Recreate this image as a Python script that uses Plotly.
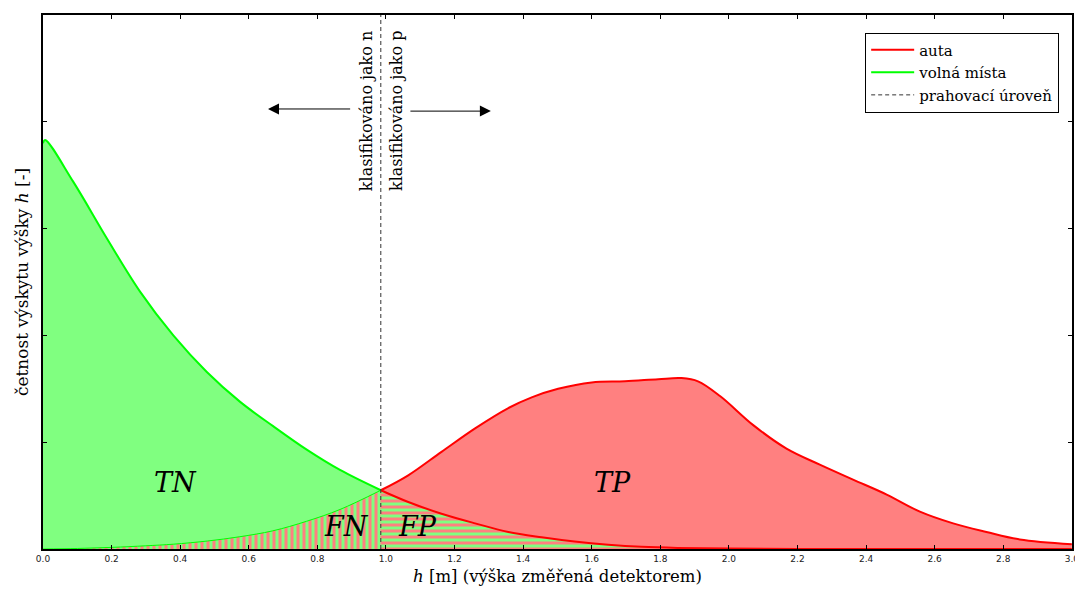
import plotly.graph_objects as go

# ---- data ----
threshold = 0.985

green_h = [0.0, 0.006, 0.088, 0.186, 0.283, 0.38, 0.477, 0.574, 0.671, 0.769, 0.866, 0.985,
           1.065, 1.162, 1.26, 1.357, 1.454, 1.55, 1.648, 1.745, 1.85, 2.0, 2.2, 2.5, 3.0]
green_v = [3.80, 3.83, 3.44, 2.91, 2.41, 2.00, 1.66, 1.38, 1.15, 0.93, 0.74, 0.55,
           0.44, 0.33, 0.24, 0.16, 0.11, 0.07, 0.04, 0.02, 0.01, 0.005, 0.0, 0.0, 0.0]

red_h = [0.0, 0.1, 0.2, 0.3, 0.38, 0.48, 0.574, 0.67, 0.769, 0.866, 0.985,
         1.065, 1.162, 1.26, 1.357, 1.425, 1.502, 1.60, 1.697, 1.794, 1.862, 1.91,
         1.975, 2.071, 2.168, 2.265, 2.362, 2.46, 2.557, 2.654, 2.751, 2.848, 3.0]
red_v = [0.0, 0.005, 0.015, 0.03, 0.045, 0.075, 0.115, 0.17, 0.26, 0.37, 0.55,
         0.69, 0.91, 1.13, 1.32, 1.42, 1.50, 1.56, 1.57, 1.59, 1.60, 1.57,
         1.43, 1.16, 0.94, 0.79, 0.65, 0.51, 0.35, 0.24, 0.16, 0.09, 0.045]

series_names = ["auta", "volná místa", "prahovací úroveň"]
region_labels = ["TN", "FN", "FP", "TP"]
x_ticks = [0.0, 0.2, 0.4, 0.6, 0.8, 1.0, 1.2, 1.4, 1.6, 1.8, 2.0, 2.2, 2.4, 2.6, 2.8, 3.0]

GREEN_FILL = "#80ff80"
RED_FILL = "#ff8080"
SERIF = "DejaVu Serif"


def split(xs, ys, left):
    if left:
        pts = [(x, y) for x, y in zip(xs, ys) if x <= threshold]
    else:
        pts = [(x, y) for x, y in zip(xs, ys) if x >= threshold]
    return [p[0] for p in pts], [p[1] for p in pts]


gx_l, gy_l = split(green_h, green_v, True)
gx_r, gy_r = split(green_h, green_v, False)
rx_l, ry_l = split(red_h, red_v, True)
rx_r, ry_r = split(red_h, red_v, False)

fig = go.Figure()
sp = dict(shape="spline", smoothing=1.0)

# TN region
fig.add_trace(go.Scatter(x=gx_l, y=gy_l, fill="tozeroy", fillcolor=GREEN_FILL,
                         mode="lines", line=dict(width=0, **sp), showlegend=False, hoverinfo="skip"))
# TP region
fig.add_trace(go.Scatter(x=rx_r, y=ry_r, fill="tozeroy", fillcolor=RED_FILL,
                         mode="lines", line=dict(width=0, **sp), showlegend=False, hoverinfo="skip"))
# FN region (vertical stripes)
fig.add_trace(go.Scatter(x=rx_l, y=ry_l, fill="tozeroy", mode="lines",
                         line=dict(width=1, color="#00ff00", **sp),
                         fillpattern=dict(shape="|", fgcolor=RED_FILL, bgcolor=GREEN_FILL,
                                          size=6, solidity=0.5, fillmode="replace"),
                         showlegend=False, hoverinfo="skip"))
# FP region (horizontal stripes)
fig.add_trace(go.Scatter(x=gx_r, y=gy_r, fill="tozeroy", mode="lines",
                         line=dict(width=2, color="#ff0000", **sp),
                         fillpattern=dict(shape="-", fgcolor=GREEN_FILL, bgcolor=RED_FILL,
                                          size=6, solidity=0.5, fillmode="replace"),
                         showlegend=False, hoverinfo="skip"))
# main lines
fig.add_trace(go.Scatter(x=rx_r, y=ry_r, mode="lines", name=series_names[0],
                         line=dict(width=2, color="#ff0000", **sp)))
fig.add_trace(go.Scatter(x=gx_l, y=gy_l, mode="lines", name=series_names[1],
                         line=dict(width=2, color="#00ff00", **sp)))
fig.add_trace(go.Scatter(x=[threshold, threshold], y=[0, 5], mode="lines", name=series_names[2],
                         line=dict(width=1, color="#333333", dash="4px,3px")))

annotations = [
    dict(x=0.942, y=4.10, text="klasifikováno jako n", textangle=-90, showarrow=False,
         font=dict(family=SERIF, size=16, color="black")),
    dict(x=1.029, y=4.10, text="klasifikováno jako p", textangle=-90, showarrow=False,
         font=dict(family=SERIF, size=16, color="black")),
    dict(x=0.656, y=4.12, ax=0.90, ay=4.12, axref="x", ayref="y", text="", showarrow=True,
         arrowhead=2, arrowsize=2.2, arrowwidth=1, arrowcolor="black"),
    dict(x=1.306, y=4.10, ax=1.067, ay=4.10, axref="x", ayref="y", text="", showarrow=True,
         arrowhead=2, arrowsize=2.2, arrowwidth=1, arrowcolor="black"),
]
label_pos = {"TN": (0.385, 0.62), "FN": (0.886, 0.21), "FP": (1.093, 0.21), "TP": (1.662, 0.62)}
for lab in region_labels:
    x, y = label_pos[lab]
    annotations.append(dict(x=x, y=y, text=f"<i>{lab}</i>", showarrow=False,
                            font=dict(family=SERIF, size=27, color="black")))

fig.update_layout(
    width=1075, height=592,
    margin=dict(l=43, r=3, t=15, b=43, autoexpand=False),
    paper_bgcolor="white", plot_bgcolor="white",
    font=dict(family=SERIF, color="black"),
    annotations=annotations,
    legend=dict(x=0.799, y=0.967, xanchor="left", yanchor="top",
                bgcolor="white", bordercolor="black", borderwidth=1,
                font=dict(family=SERIF, size=15, color="black"),
                tracegroupgap=0, itemwidth=43),
    xaxis=dict(range=[0, 3.0005], tickvals=x_ticks, ticktext=[f"{t:.1f}" for t in x_ticks],
               showline=True, linecolor="black", linewidth=2, mirror="ticks",
               ticks="inside", ticklen=4, tickcolor="black", ticklabeloverflow="allow",
               automargin=False,
               tickfont=dict(family="DejaVu Sans", size=9, color="#222"),
               showgrid=False, zeroline=False,
               title=dict(text="<i>h</i> [m] (výška změřená detektorem)",
                          font=dict(family=SERIF, size=16.5), standoff=8)),
    yaxis=dict(range=[0, 5], dtick=1, showticklabels=False,
               showline=True, linecolor="black", linewidth=2, mirror="ticks",
               ticks="inside", ticklen=4, tickcolor="black", automargin=False,
               showgrid=False, zeroline=False,
               title=dict(text="četnost výskytu výšky <i>h</i> [-]",
                          font=dict(family=SERIF, size=17), standoff=8)),
)

fig.write_html("out.html")
